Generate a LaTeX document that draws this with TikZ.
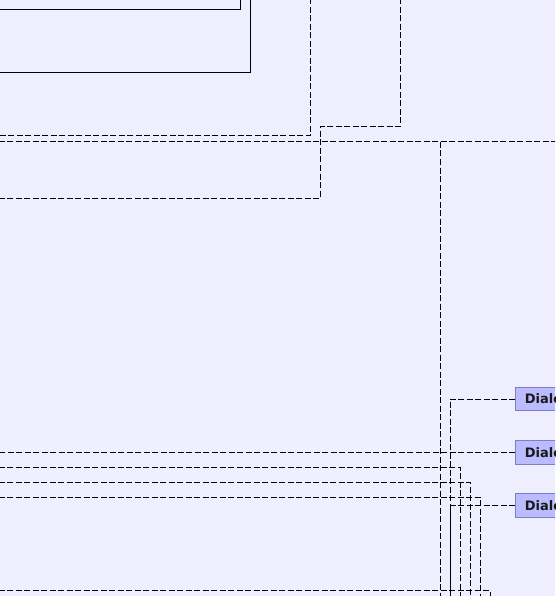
\documentclass[tikz,border=0pt]{standalone}
\usepackage{fontspec}
\setsansfont{DejaVu Sans}
\definecolor{canvas}{HTML}{EEEEFF}
\definecolor{dlgfill}{HTML}{BBBBFF}
\definecolor{dlgline}{HTML}{8080C0}
\begin{document}
\begin{tikzpicture}[x=1pt,y=-1pt,
  frame/.style={draw=black,line width=1pt},
  link/.style={draw=black,line width=1pt,dash pattern=on 6pt off 2.5pt},
  dlgbox/.style={draw=dlgline,fill=dlgfill,line width=1pt,anchor=west,
    minimum height=23.5pt,text width=72pt,align=left,inner xsep=9pt,text=black!90,
    font=\sffamily\bfseries\fontsize{13pt}{15pt}\selectfont}]
  % canvas
  \fill[canvas] (0,0) rectangle (555,596);
  \useasboundingbox (0,0) rectangle (555,596);
  \clip (0,0) rectangle (555,596);

  % framed panels running off the top-left
  \draw[frame] (-20,-20) rectangle (240.5,10);
  \draw[frame] (-20,-20) rectangle (250.5,73);

  % dialog nodes on the right edge
  \node[dlgbox] (d1) at (515.3,399) {Dialect};
  \node[dlgbox] (d2) at (515.3,452.3) {Dialect};
  \node[dlgbox] (d3) at (515.3,505.6) {Dialect};

  % free ends of the connectors outside the canvas
  \coordinate (t1) at (310,-10);
  \coordinate (l1) at (-10,136);
  \coordinate (t2) at (400,-10);
  \coordinate (l2) at (-10,198);
  \coordinate (l3) at (-10,142);
  \coordinate (r3) at (570,142);
  \coordinate (b3) at (440,610);
  \coordinate (ld2) at (-10,452.3);
  \coordinate (bd1) at (450,610);
  \coordinate (l4) at (-10,467);
  \coordinate (b4) at (460,610);
  \coordinate (l5) at (-10,482);
  \coordinate (b5) at (470,610);
  \coordinate (l6) at (-10,497);
  \coordinate (b6) at (480,610);
  \coordinate (l7) at (-10,590.5);
  \coordinate (b7) at (490,610);

  % connectors
  \draw[link] (t1) |- (l1);
  \draw[link] (t2) -- (400,127) -- (320,127) |- (l2);
  \draw[link] (l3) -- (r3);
  \draw[link] (440,142) -- (b3);
  \draw[link] (d1.west) -| (bd1);
  \draw[link] (d3.west) -| (bd1);
  \draw[link] (d2.west) -- (ld2);
  \draw[link] (l4) -| (b4);
  \draw[link] (l5) -| (b5);
  \draw[link] (l6) -| (b6);
  \draw[link] (l7) -| (b7);
\end{tikzpicture}
\end{document}
